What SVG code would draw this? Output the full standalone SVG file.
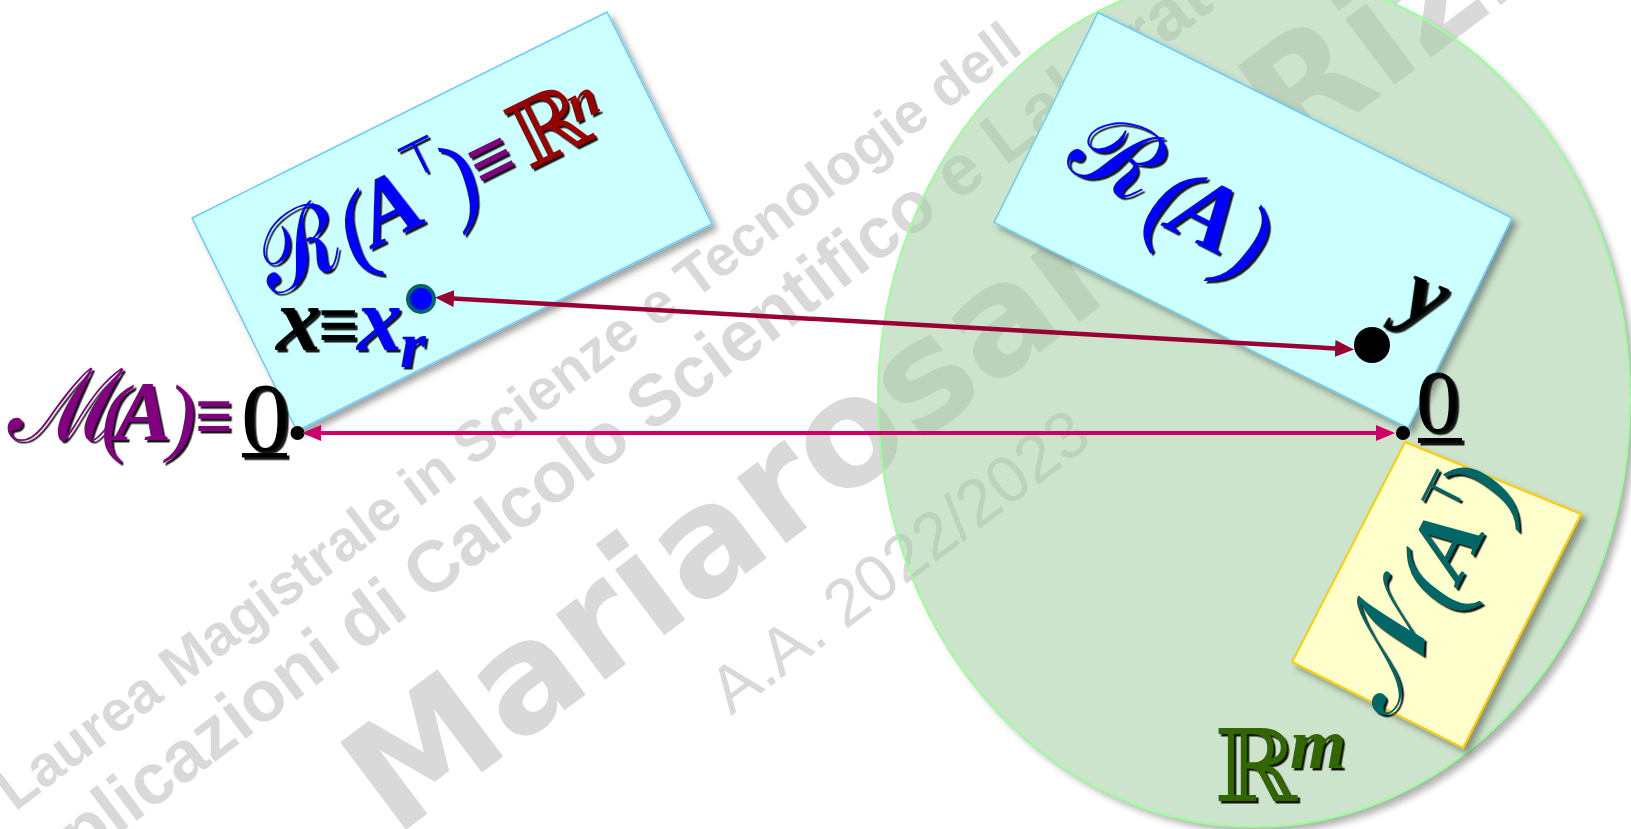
<svg xmlns="http://www.w3.org/2000/svg" width="1631" height="829" viewBox="0 0 1631 829">
<style>
.wm{font-family:"Liberation Sans",Arial,sans-serif;font-weight:bold;fill:#d9d9d9}
.wml{font-family:"Liberation Sans",Arial,sans-serif;fill:#d9d9d9}
.wmb{font-family:"DejaVu Sans",sans-serif;font-weight:bold;fill:#d9d9d9}
.ser{font-family:"Liberation Serif","Times New Roman",serif}
.bi{font-family:"Liberation Serif","Times New Roman",serif;font-style:italic;font-weight:bold}
.it{font-family:"Liberation Serif","Times New Roman",serif;font-style:italic}
.scr{font-family:"DejaVu Serif",serif}
.sym{font-family:"DejaVu Sans",sans-serif}
.sh{filter:url(#tsh)}
.cyan{fill:#ccffff;stroke:#66ccff;stroke-width:1.5;filter:url(#bsh)}
.yel{fill:#ffffcc;stroke:#ffcc00;stroke-width:2;filter:url(#bsh)}
</style>
<defs>
<filter id="tsh" x="-20%" y="-20%" width="140%" height="140%"><feDropShadow dx="2.5" dy="2.5" stdDeviation="0.7" flood-color="#000" flood-opacity="0.9"/></filter>
<filter id="bsh" x="-10%" y="-10%" width="125%" height="125%"><feDropShadow dx="5" dy="5" stdDeviation="3" flood-color="#000" flood-opacity="0.35"/></filter>
<filter id="blur" x="-10%" y="-10%" width="120%" height="120%"><feGaussianBlur stdDeviation="3.5"/></filter>
<mask id="outE" maskUnits="userSpaceOnUse" x="0" y="0" width="1631" height="829"><rect width="1631" height="829" fill="#fff"/><ellipse cx="1254" cy="400" rx="376" ry="427" fill="#000"/></mask>
<marker id="mMag" markerUnits="userSpaceOnUse" markerWidth="19" markerHeight="16" viewBox="0 0 19 16" refX="1" refY="8" orient="auto-start-reverse"><path d="M0,0 L19,8 L0,16 z" fill="#cc0066"/></marker>
<marker id="mRed" markerUnits="userSpaceOnUse" markerWidth="19" markerHeight="17" viewBox="0 0 19 17" refX="1" refY="8.5" orient="auto-start-reverse"><path d="M0,0 L19,8.5 L0,17 z" fill="#990033"/></marker>
</defs>

<g id="watermark">
<text class="wm" transform="translate(15,812) rotate(-37)" font-size="57.5">Laurea Magistrale in Scienze e Tecnologie dell</text>
<text class="wm" transform="translate(5,920) rotate(-37)" font-size="72">Applicazioni di Calcolo Scientifico e Laboratorio</text>
<text class="wmb" transform="translate(395,838) rotate(-37)" font-size="150">Mariarosaria Rizzardi</text>
<text class="wml" transform="translate(731,716) rotate(-37)" font-size="66">A.A. 2022/2023</text>
</g>

<g id="space-Rm">
<ellipse cx="1260" cy="406" rx="376" ry="427" fill="#000" opacity="0.3" filter="url(#blur)" mask="url(#outE)"/>
<ellipse cx="1254" cy="400" rx="376" ry="427" fill="#a2cda0" fill-opacity="0.54" stroke="#99ff99" stroke-width="2"/>
<g class="sh"><text x="1214" y="801" class="scr" font-size="100" fill="#336600">ℝ</text><text x="1290" y="768" class="bi" font-size="72" fill="#336600">m</text></g>
</g>

<g id="row-space">
<polygon class="cyan" points="192,218 607,12 712,224 297,431"/>
<g class="sh"><g transform="translate(276,296.6) rotate(-26.45)">
<text x="-2" y="0" class="scr" font-size="98" fill="#0000ff">ℛ</text>
<text x="84" y="8" class="it" font-size="100" fill="#0000ff">(</text>
<text x="110" y="0" class="bi" font-size="92" fill="#0000ff">A</text>
<text x="170" y="-44" class="sym" font-size="48" fill="#0000ff">⊤</text>
<text x="200" y="8" class="it" font-size="100" fill="#0000ff">)</text>
<text x="232" y="-2" class="ser" font-weight="bold" font-size="76" textLength="44" lengthAdjust="spacingAndGlyphs" fill="#800080">≡</text>
<text x="282" y="0" class="scr" font-size="90" fill="#990000">ℝ</text>
<text x="346" y="-22" class="bi" font-size="54" fill="#990000">n</text>
</g></g>
<g class="sh">
<text x="276" y="350" class="bi" font-size="90" fill="#000">x</text>
<text x="318" y="349" class="ser" font-weight="bold" font-size="72" textLength="41" lengthAdjust="spacingAndGlyphs" fill="#000">≡</text>
<text x="357" y="350" class="bi" font-size="90" fill="#0000ff">x</text>
<text x="400" y="367" class="bi" font-size="66" fill="#0000ff">r</text>
</g>
<circle cx="421" cy="299" r="13" fill="#0000ff" stroke="#006666" stroke-width="4"/>
</g>

<g id="col-space">
<polygon class="cyan" points="1098,12.5 1512,218 1408,428 994,222.5"/>
<g class="sh"><g transform="translate(1072,180) rotate(27)">
<text x="-14" y="-8" class="scr" font-size="100" fill="#0000ff">ℛ</text>
<text x="80" y="8" class="it" font-size="104" fill="#0000ff">(</text>
<text x="104" y="0" class="bi" font-size="96" fill="#0000ff">A</text>
<text x="168" y="8" class="it" font-size="104" fill="#0000ff">)</text>
</g>
<text transform="translate(1398,313) rotate(22)" class="bi" font-size="88" fill="#000">y</text>
</g>
<circle cx="1372" cy="345" r="18" fill="#000"/>
</g>

<g id="null-AT">
<polygon class="yel" points="1405,442 1581,514 1463,748 1292,662"/>
<g class="sh"><g transform="translate(1382,735) rotate(-63)">
<text x="18" y="0" class="scr" font-size="120" fill="#006666">𝒩</text>
<text x="140" y="8" class="it" font-size="104" fill="#006666">(</text>
<text x="169" y="0" class="bi" font-size="92" fill="#006666">A</text>
<text x="223" y="-37" class="sym" font-size="50" fill="#006666">⊤</text>
<text x="248" y="8" class="it" font-size="104" fill="#006666">)</text>
</g></g>
</g>

<g id="null-A">
<g class="sh">
<text x="8" y="440" class="scr" font-size="100" fill="#800080">ℳ</text>
<text x="101" y="445" class="it" font-size="86" fill="#800080">(</text>
<text x="115" y="440" class="bi" font-size="84" fill="#800080">A</text>
<text x="167" y="445" class="it" font-size="86" fill="#800080">)</text>
<text x="195" y="440" class="ser" font-weight="bold" font-size="72" textLength="38" lengthAdjust="spacingAndGlyphs" fill="#800080">≡</text>
<text x="241" y="450" class="ser" font-size="98" fill="#000">0</text>
<rect x="242" y="453" width="45" height="4.5" fill="#000"/>
</g>
<circle cx="297.5" cy="433" r="7" fill="#000"/>
</g>

<g id="zero-Rm">
<g class="sh">
<text x="1416" y="431" class="ser" font-size="88" fill="#000">0</text>
<rect x="1418" y="438" width="44" height="5" fill="#000"/>
</g>
<circle cx="1403" cy="433" r="7" fill="#000"/>
</g>

<g id="connectors">
<line x1="320" y1="433" x2="1377" y2="433" stroke="#cc0066" stroke-width="4" marker-start="url(#mMag)" marker-end="url(#mMag)"/>
<line x1="453" y1="298.5" x2="1336" y2="348.5" stroke="#990033" stroke-width="4.5" marker-start="url(#mRed)" marker-end="url(#mRed)"/>
</g>
</svg>
